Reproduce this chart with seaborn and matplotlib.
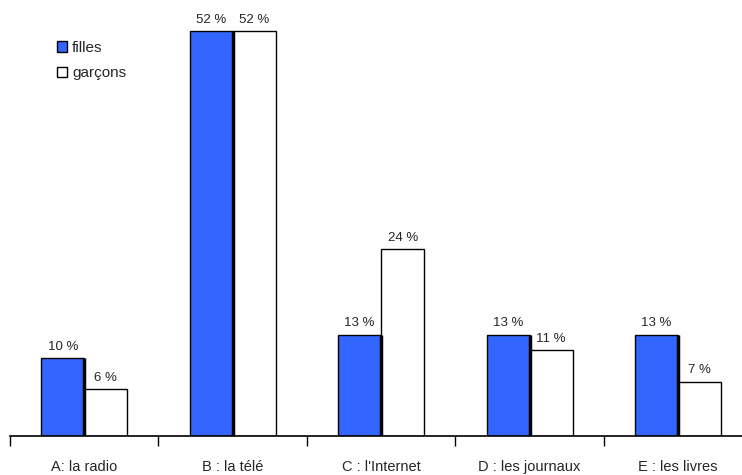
import matplotlib
matplotlib.use("Agg")
import matplotlib.pyplot as plt
import seaborn as sns
import pandas as pd
import numpy as np

categories = ["A: la radio", "B : la télé", "C : l'Internet", "D : les journaux", "E : les livres"]
filles = [10, 52, 13, 13, 13]
garcons = [6, 52, 24, 11, 7]
series = ["filles", "garçons"]

df = pd.DataFrame({
    "cat": categories * 2,
    "val": filles + garcons,
    "serie": [series[0]] * len(categories) + [series[1]] * len(categories),
})

sns.set_style("white")
plt.rcParams['font.family'] = ['Liberation Sans', 'DejaVu Sans']

fig = plt.figure(figsize=(7.42, 4.75), dpi=100)
ax = fig.add_axes([10 / 742, 39 / 475, (742 - 10) / 742, 428 / 475])

sns.barplot(data=df, x="cat", y="val", hue="serie", order=categories,
            hue_order=series, palette=["#3366FF", "#FFFFFF"], width=0.58,
            saturation=1, edgecolor="black", linewidth=1.0, ax=ax, legend=True)

# thick dark right edge on the blue bars (shadow-like look of the original)
for bar in ax.containers[0]:
    x1 = bar.get_x() + bar.get_width()
    ax.plot([x1, x1], [0, bar.get_height()], color="black", lw=2.5,
            solid_capstyle="butt", zorder=bar.get_zorder() + 0.1)

for cont in ax.containers:
    ax.bar_label(cont, labels=[f"{int(v)} %" for v in cont.datavalues],
                 padding=4, fontsize=9.5)

ax.set_xlim(-0.5, 4.43)
ax.set_ylim(0, 55)
ax.set_xlabel("")
ax.set_ylabel("")
ax.set_yticks([])
for s in ["top", "right", "left"]:
    ax.spines[s].set_visible(False)
ax.spines["bottom"].set_linewidth(1.2)
ax.spines["bottom"].set_color("black")

ax.set_xticks(range(len(categories)))
ax.set_xticklabels(categories, fontsize=10.5)
ax.tick_params(axis="x", which="major", length=0, pad=17)
ax.set_xticks(np.arange(-0.5, 4.5, 1.0), minor=True)
ax.tick_params(axis="x", which="minor", length=7, width=1, color="black", direction="out", bottom=True)

leg = ax.legend(loc="upper left", bbox_to_anchor=(0.045, 0.955), frameon=False,
                fontsize=11, handlelength=0.7, handleheight=0.7, handletextpad=0.3,
                labelspacing=0.75)

fig.savefig("out.png", dpi=100)
